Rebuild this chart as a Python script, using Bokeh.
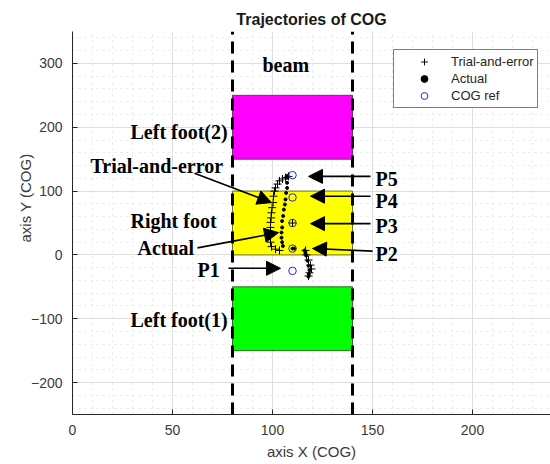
from bokeh.plotting import figure
from bokeh.models import (Range1d, Arrow, NormalHead, Legend, LegendItem,
                          SingleIntervalTicker, ColumnDataSource, Title)
from bokeh.core.properties import value
from bokeh.embed import file_html
from bokeh.resources import INLINE

# ---------------- data ----------------
beam_x = [80, 140]
foot_names = ["Left foot(1)", "Right foot", "Left foot(2)"]
foot_left = [80, 80, 80]
foot_right = [140, 140, 140]
foot_bottom = [-150, 0, 150]
foot_top = [-50, 100, 250]
foot_fill = ["#00ff00", "#ffff00", "#ff00ff"]
foot_edge = ["#2a6e2a", "#6e6e1a", "#7a2a7a"]

trial_x = [108, 106.5, 105, 103.5, 102.5, 101.5, 101, 100.5, 100.3, 99.8, 99.5,
           99.3, 99, 99, 99, 99, 99, 99.5, 101.5, 103.5, 110,
           116.5, 117, 118, 119, 119.5, 118.5, 118]
trial_y = [123, 121, 119, 116, 111, 105, 100, 92, 82, 74, 66,
           58, 51, 43, 36, 30, 20, 13, 9, 7, 50,
           7, 0, -8, -16, -22, -28, -33]

actual_x = [107.5, 107.3, 107.3, 107.3, 106.8, 106.5, 106.2, 105.7, 105.3, 104.8,
            104.8, 104.5, 104.5, 104.8, 105.2, 110, 111,
            116, 116.5, 116.8, 117.5, 118, 118.5, 118.2, 118]
actual_y = [124, 121, 113, 105, 97, 87, 79, 71, 61, 53,
            43, 35, 27, 20, 14, 10, 10,
            7, 3, -1, -9, -17, -24, -30, -34]

ref_x = [110, 110, 110, 110, 110]
ref_y = [125, 90, 50, 10, -25]

# annotation texts (bold serif)
note_text = ["beam", "Left foot(2)", "Trial-and-error", "Right foot", "Actual",
             "P1", "Left foot(1)", "P5", "P4", "P3", "P2"]
note_x = [95, 29, 9, 29, 32.5, 62.5, 29, 151.5, 151.5, 151.5, 151.5]
note_y = [297, 193, 139, 53, 11, -24, -102, 119, 84, 46, 2]

# arrows
arr_x0 = [61, 62.5, 78, 149, 149, 149, 150]
arr_y0 = [128, 11, -21, 123, 92, 49, 6]
arr_x1 = [99.5, 103, 104, 118, 119, 119, 120]
arr_y1 = [82, 35, -21, 123, 92, 49, 10]

title_text = "Trajectories of COG"
xlabel_text = "axis X (COG)"
ylabel_text = "axis Y (COG)"

# ---------------- figure ----------------
p = figure(width=550, height=464, output_backend="svg", toolbar_location=None,
           x_range=Range1d(0, 239), y_range=Range1d(-250, 350),
           min_border_left=72, min_border_right=0, min_border_top=31,
           min_border_bottom=50)
p.outline_line_color = None
p.background_fill_color = "white"
p.border_fill_color = "white"

p.title.text = title_text
p.title.align = "center"
p.title.text_font = "Liberation Sans"
p.title.text_font_size = "16px"
p.title.text_font_style = "bold"
p.title.text_color = "#1a1a1a"
p.title.standoff = 8

ytitle = Title(text=ylabel_text, align="left", offset=172, standoff=-12,
               text_font="Liberation Sans", text_font_size="15px",
               text_font_style="normal", text_color="#3a3a3a")
p.add_layout(ytitle, "left")

xt = SingleIntervalTicker(interval=50, num_minor_ticks=5)
yt = SingleIntervalTicker(interval=100, num_minor_ticks=5)
p.xaxis.ticker = xt
p.yaxis.ticker = yt
p.xgrid.ticker = xt
p.ygrid.ticker = yt
for g in (p.xgrid, p.ygrid):
    g.grid_line_color = "#dedede"
    g.grid_line_width = 1
    g.minor_grid_line_color = "#e6e6e6"
    g.minor_grid_line_dash = "dotted"

for ax in (p.xaxis, p.yaxis):
    ax.axis_line_color = "#262626"
    ax.major_tick_line_color = "#262626"
    ax.major_tick_in = 5
    ax.major_tick_out = 0
    ax.minor_tick_line_color = None
    ax.major_label_text_font = "Liberation Sans"
    ax.major_label_text_font_size = "14px"
    ax.major_label_text_color = "#3a3a3a"
    ax.major_label_standoff = 6
p.xaxis.axis_label = xlabel_text
p.xaxis.axis_label_text_font = "Liberation Sans"
p.xaxis.axis_label_text_font_size = "15px"
p.xaxis.axis_label_text_font_style = "normal"
p.xaxis.axis_label_text_color = "#3a3a3a"
p.xaxis.axis_label_standoff = 5

# feet rectangles
feet = ColumnDataSource(dict(l=foot_left, r=foot_right, b=foot_bottom, t=foot_top,
                             f=foot_fill, e=foot_edge))
p.quad(left="l", right="r", bottom="b", top="t", fill_color="f", line_color="e",
       line_width=1, source=feet)

# beam dashed lines
for bx in beam_x:
    p.line([bx, bx], [-250, 350], line_color="black", line_width=3, line_dash="12 7")

# series
r_trial = p.scatter(trial_x, trial_y, marker="cross", size=8, line_color="black",
                    line_width=1)
r_act = p.scatter(actual_x, actual_y, marker="circle", size=3, fill_color="black",
                  line_color="black")
r_ref = p.scatter(ref_x, ref_y, marker="circle", size=7.5, fill_color=None,
                  line_color="#2b2bc0", line_width=1)

# arrows
arr = ColumnDataSource(dict(x0=arr_x0, y0=arr_y0, x1=arr_x1, y1=arr_y1))
p.add_layout(Arrow(end=NormalHead(size=14, fill_color="black", line_color="black"),
                   x_start="x0", y_start="y0", x_end="x1", y_end="y1",
                   line_width=1.6, line_color="black", source=arr))

# text notes
notes = ColumnDataSource(dict(x=note_x, y=note_y, t=note_text))
p.text(x="x", y="y", text="t", source=notes, text_font=value("Liberation Serif"),
       text_font_style="bold", text_font_size="20px", text_color="black",
       text_baseline="middle", text_align="left")

# legend
legend = Legend(items=[LegendItem(label="Trial-and-error", renderers=[r_trial]),
                       LegendItem(label="Actual", renderers=[r_act]),
                       LegendItem(label="COG ref", renderers=[r_ref])],
                location=(321, 306))
legend.border_line_color = "black"
legend.border_line_width = 1
legend.background_fill_color = "white"
legend.background_fill_alpha = 1
legend.padding = 3
legend.spacing = 0
legend.margin = 0
legend.glyph_width = 54
legend.glyph_height = 17
legend.label_height = 17
legend.label_standoff = 0
legend.label_text_font = "Liberation Sans"
legend.label_text_font_size = "13px"
legend.label_text_color = "#262626"
p.add_layout(legend)

open("out.html", "w").write(file_html(p, INLINE))
